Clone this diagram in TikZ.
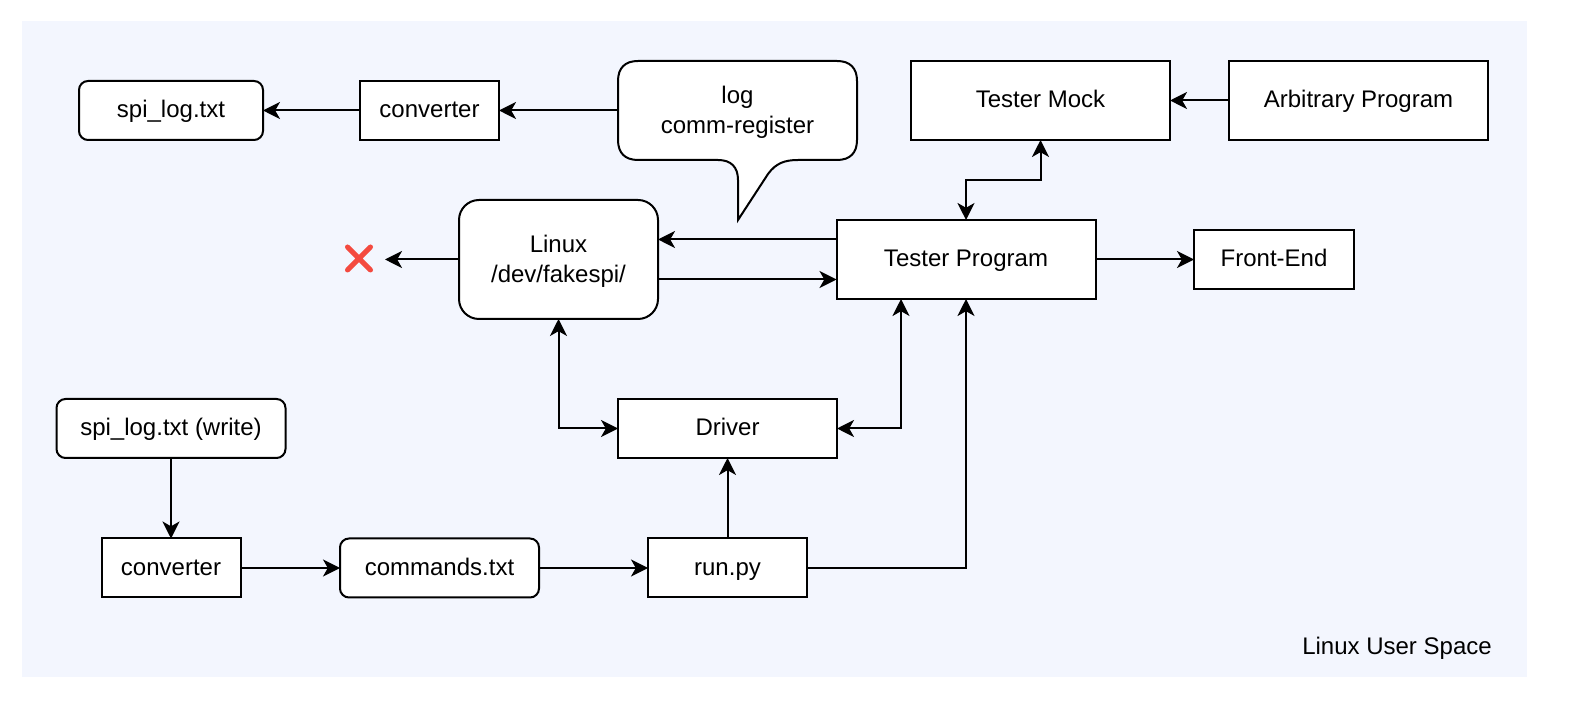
\documentclass[tikz,border=0pt]{standalone}
\usepackage{fontspec}
\setmainfont{Liberation Sans}
\usetikzlibrary{arrows.meta}
\definecolor{bgblue}{HTML}{F3F6FE}
\definecolor{xred}{HTML}{F44A3F}
\tikzset{
  every node/.style={font=\fontsize{12}{15}\selectfont, inner sep=0pt, outer sep=0pt},
  oneline/.style={text height=10.1pt, text depth=2.6pt},
  twoline/.style={align=center, text height=26.1pt, text depth=2.6pt},
  box/.style={draw=black, fill=white, line width=1pt, oneline},
  rbox/.style={box, rounded corners=4.5pt},
  bigr/.style={box, rounded corners=10pt, twoline},
  conn/.style={line width=1pt, draw=black, -{Stealth[length=8.5pt,width=8.5pt,inset=2.4pt]}},
  dconn/.style={line width=1pt, draw=black, {Stealth[length=8.5pt,width=8.5pt,inset=2.4pt]}-{Stealth[length=8.5pt,width=8.5pt,inset=2.4pt]}},
}
\begin{document}
\begin{tikzpicture}[x=0.5pt,y=-0.5pt]
\useasboundingbox (0,0) rectangle (1578,704);
\fill[bgblue] (22,21) rectangle (1527,677);

\node[rbox,minimum width=92pt,minimum height=29.5pt] (spilog) at (171,110.5) {spi\_log.txt};
\node[box,minimum width=69.5pt,minimum height=29.5pt] (conva) at (429.5,110.5) {converter};

% callout body
\draw[line width=1pt,fill=white,line join=miter]
  (638,61) -- (837,61) .. controls (850,61) and (857,68) .. (857,81)
  -- (857,140) .. controls (857,153) and (850,160) .. (837,160)
  -- (798,160) .. controls (785,160) and (776,163) .. (768,174)
  -- (738,220) -- (738,180) .. controls (738,167) and (731,160) .. (718,160)
  -- (638,160) .. controls (625,160) and (618,153) .. (618,140)
  -- (618,81) .. controls (618,68) and (625,61) .. (638,61) -- cycle;
\node[twoline,minimum width=119.5pt,minimum height=49.5pt] (callout) at (737.5,110.5) {log\\comm-register};

\node[box,minimum width=129.5pt,minimum height=39.5pt] (mock) at (1040.5,100.5) {Tester Mock};
\node[box,minimum width=129.5pt,minimum height=39.5pt] (arb) at (1358.5,100.5) {Arbitrary Program};
\node[bigr,minimum width=99.5pt,minimum height=59.5pt] (linux) at (558.5,259.5) {Linux\\/dev/fakespi/};
\node[box,minimum width=129.5pt,minimum height=39.5pt] (tester) at (966,259.5) {Tester Program};
\node[box,minimum width=80pt,minimum height=29.5pt] (front) at (1274,259.5) {Front-End};
\node[rbox,minimum width=114.5pt,minimum height=29.5pt] (spiw) at (171,428.5) {spi\_log.txt (write)};
\node[box,minimum width=109.5pt,minimum height=29.5pt] (driver) at (727.5,428.5) {Driver};
\node[box,minimum width=69.5pt,minimum height=29.5pt] (convb) at (171,568) {converter};
\node[rbox,minimum width=99.5pt,minimum height=29.5pt] (cmds) at (439.5,568) {commands.txt};
\node[box,minimum width=79.5pt,minimum height=29.5pt] (run) at (727.5,568) {run.py};
\node[oneline] (space) at (1397,646.5) {Linux User Space};

% red cross
\coordinate (xa) at (347.5,247);
\coordinate (xb) at (370.5,270);
\coordinate (xc) at (370.5,247);
\coordinate (xd) at (347.5,270);
\draw[xred,line width=2.5pt,line cap=round] (xa) -- (xb) (xc) -- (xd);
\coordinate (xend) at (385,259.5);

\draw[conn] (conva) -- (spilog);
\draw[conn] (callout) -- (conva);
\draw[conn] (arb) -- (mock);
\draw[conn] (linux) -- (xend);
\draw[conn] ([yshift=10pt]tester.west) -- ([yshift=10pt]linux.east);
\draw[conn] ([yshift=-10pt]linux.east) -- ([yshift=-10pt]tester.west);
\draw[conn] (tester) -- (front);
\coordinate (mid) at (1003,180);
\draw[dconn] (tester.north) |- (mid) -| (mock.south);
\draw[dconn] (linux.south) |- (driver.west);
\draw[dconn] (driver.east) -| ([xshift=-32.5pt]tester.south);
\draw[conn] (run.north) -- (driver.south);
\draw[conn] (run.east) -| (tester.south);
\draw[conn] (spiw) -- (convb);
\draw[conn] (convb) -- (cmds);
\draw[conn] (cmds) -- (run);
\end{tikzpicture}
\end{document}
